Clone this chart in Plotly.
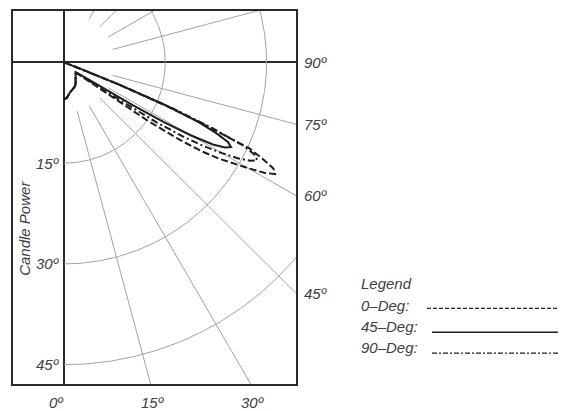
import numpy as np
import plotly.graph_objects as go

# ---------------- data (angle from nadir in degrees, candle power in grid units) ----------
ang_0 = [0, 5, 10, 15, 20, 25, 30, 35, 40, 45, 50, 52, 53, 54, 55, 56, 57, 58, 59, 60,
         61, 62, 63, 64, 65, 66, 67, 68, 69, 70]
cp_0 = [37, 35, 31, 29, 28, 26, 23, 20, 18, 16, 17, 25, 35, 55, 100, 135, 162, 180, 195, 210,
        226, 236, 232, 218, 202, 150, 105, 55, 15, 0]

ang_45 = [0, 5, 10, 15, 20, 25, 30, 35, 40, 45, 50, 54, 56, 57, 58, 59, 60, 61, 62, 63,
          64, 65, 66, 67, 68, 69, 70]
cp_45 = [37, 35, 31, 29, 28, 26, 23, 20, 18, 16, 15, 25, 38, 55, 80, 115, 145, 168, 180, 185,
         180, 165, 145, 110, 60, 15, 0]

ang_90 = [0, 5, 10, 15, 20, 25, 30, 35, 40, 45, 50, 52, 54, 55, 56, 57, 58, 59, 60, 61,
          62, 63, 64, 65, 66, 67, 68, 69, 70]
cp_90 = [37, 35, 31, 29, 28, 26, 23, 20, 18, 16, 16, 20, 32, 50, 75, 110, 140, 162, 180, 196,
         208, 214, 210, 195, 160, 115, 60, 15, 0]

arc_radii = [100, 200, 300]
arc_labels = ["15º", "30º", "45º"]
radial_angles = [15, 30, 45, 60, 75, 105, 120, 135, 150]
right_angles = [90, 75, 60, 45]
right_labels = ["90º", "75º", "60º", "45º"]
bottom_angles = [0, 15, 30]
bottom_labels = ["0º", "15º", "30º"]
legend_names = ["0–Deg:", "45–Deg:", "90–Deg:"]

# ---------------- layout constants ----------------
PAGE = 8  # default body margin of the html page
W, H = 566 - PAGE, 411 - PAGE
ML, MR, MT, MB = 13 - PAGE, 270, 9 - PAGE, 27
scale = 1.013  # px per unit
pw, ph = W - ML - MR, H - MT - MB
ox_px, oy_px = 64 - 13, 60.7 - 9  # origin inside plot area
x0 = -ox_px / scale
x1 = x0 + pw / scale
y1 = oy_px / scale
y0 = y1 - ph / scale

FONT = "Liberation Sans, Arial, sans-serif"
TXT = "#404040"
GRID = "#a3a3a3"
INK = "#1e1e1e"


def pol(theta_deg, r):
    t = np.radians(np.asarray(theta_deg, float))
    r = np.asarray(r, float)
    return r * np.sin(t), -r * np.cos(t)


fig = go.Figure()

# arcs
for r in arc_radii:
    th = np.linspace(0, 180, 361)
    x, y = pol(th, np.full_like(th, r))
    fig.add_trace(go.Scatter(x=x, y=y, mode="lines", line=dict(color=GRID, width=1),
                             hoverinfo="skip", showlegend=False))
# radial lines
for a in radial_angles:
    x, y = pol([a, a], [50, 600])
    fig.add_trace(go.Scatter(x=x, y=y, mode="lines", line=dict(color=GRID, width=1),
                             hoverinfo="skip", showlegend=False))

# curves
x, y = pol(ang_0, cp_0)
fig.add_trace(go.Scatter(x=x, y=y, mode="lines",
                         line=dict(color=INK, width=2, dash="7px,3px"), name="0–Deg"))
x, y = pol(ang_90, cp_90)
fig.add_trace(go.Scatter(x=x, y=y, mode="lines",
                         line=dict(color=INK, width=2, dash="7px,3px,2px,3px"), name="90–Deg"))
x, y = pol(ang_45, cp_45)
fig.add_trace(go.Scatter(x=x, y=y, mode="lines",
                         line=dict(color=INK, width=2), name="45–Deg"))

tickfont = dict(family=FONT, size=15, color=TXT, style="italic")

ann = []
# right labels
for a, lab in zip(right_angles, right_labels):
    yy = -x1 / np.tan(np.radians(a)) if a != 90 else 0.0
    ann.append(dict(x=x1, y=yy, xref="x", yref="y", text=lab, showarrow=False,
                    xanchor="left", yanchor="middle", xshift=6, font=tickfont))
# bottom labels
for a, lab in zip(bottom_angles, bottom_labels):
    xx = -y0 * np.tan(np.radians(a))
    ann.append(dict(x=xx, y=y0, xref="x", yref="y", text=lab, showarrow=False,
                    xanchor="center", yanchor="top", yshift=-8,
                    xshift=-8 if a == 0 else 2, font=tickfont))
# left arc labels
for r, lab in zip(arc_radii, arc_labels):
    ann.append(dict(x=0, y=-r, xref="x", yref="y", text=lab, showarrow=False,
                    xanchor="right", yanchor="middle", xshift=-2, bgcolor="white",
                    borderpad=1, font=tickfont))


def px2paper(px, py):
    # px, py are window pixel positions
    return (px - 13) / pw, 1 - (py - 9) / ph


# axis title
tx, ty = px2paper(25, 228)
ann.append(dict(x=tx, y=ty, xref="paper", yref="paper",
                text="Candle Power", textangle=-90, showarrow=False,
                xanchor="center", yanchor="middle", font=tickfont))

# legend
lx, ly = px2paper(359, 283)
ann.append(dict(x=lx, y=ly, xref="paper", yref="paper", text="Legend", showarrow=False,
                xanchor="left", yanchor="middle", font=tickfont))
shapes = []
dashes = ["4px,2px", "solid", "5px,2px,2px,2px"]
rows_y = [305, 326, 347]
line_y = [308, 332, 353]
line_x0 = [427, 432, 432]
for name, ry, lyy, lx0, d in zip(legend_names, rows_y, line_y, line_x0, dashes):
    tx, ty = px2paper(359, ry)
    ann.append(dict(x=tx, y=ty, xref="paper", yref="paper", text=name, showarrow=False,
                    xanchor="left", yanchor="middle", font=tickfont))
    sx0, sy = px2paper(lx0, lyy)
    sx1, _ = px2paper(566, lyy)
    shapes.append(dict(type="line", xref="paper", yref="paper", x0=sx0, x1=sx1, y0=sy, y1=sy,
                       line=dict(color=INK, width=1.4, dash=d)))

axis_common = dict(showgrid=False, showticklabels=False, ticks="", showline=True, mirror=True,
                   linecolor="#2a2a2a", linewidth=2, zeroline=True, zerolinecolor="#2a2a2a",
                   zerolinewidth=2)

fig.update_layout(
    width=W, height=H,
    margin=dict(l=ML, r=MR, t=MT, b=MB),
    paper_bgcolor="white", plot_bgcolor="white",
    xaxis=dict(range=[x0, x1], **axis_common),
    yaxis=dict(range=[y0, y1], **axis_common),
    annotations=ann, shapes=shapes,
    showlegend=False,
)

fig.write_html("out.html")
